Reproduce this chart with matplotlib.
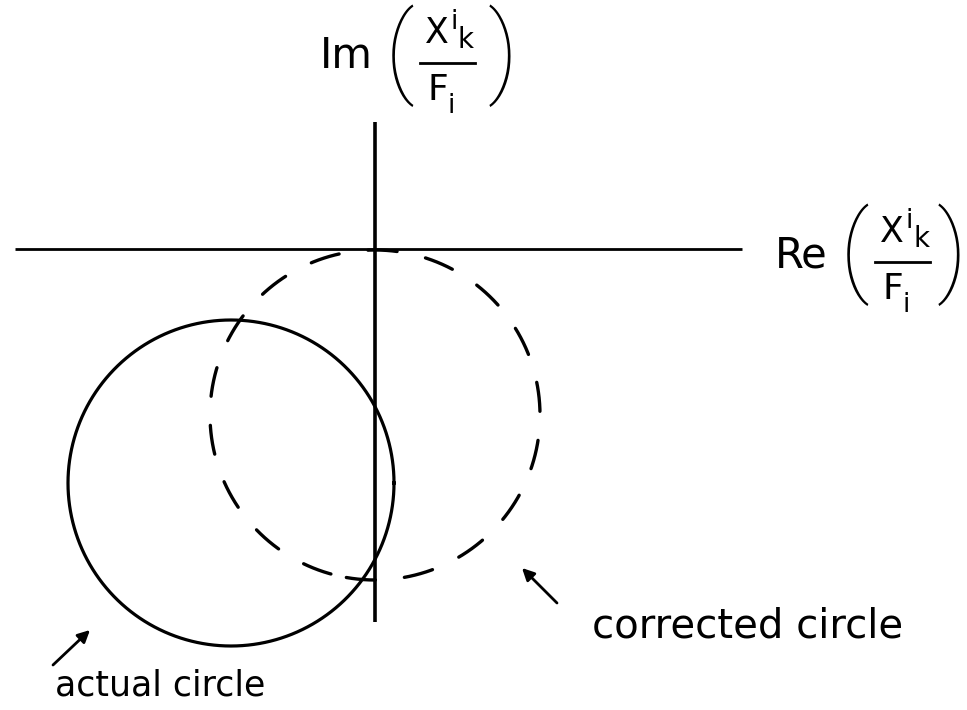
import numpy as np
import matplotlib
matplotlib.use("Agg")
import matplotlib.pyplot as plt

plt.rcParams["lines.scale_dashes"] = False
plt.rcParams["font.family"] = ["DejaVu Sans"]

# Complex-plane sketch: coordinates in plot units (origin at axis crossing)
re_axis_range = [-3.60, 3.67]        # extent of the real axis
im_axis_range = [1.27, -3.73]        # extent of the imaginary axis

actual_center = [-1.44, -2.34]
actual_radius = 1.63
corrected_center = [0.0, -1.66]
corrected_radius = 1.65
corrected_dash_start_deg = 260.0

label_actual = "actual circle"
label_corrected = "corrected circle"
prefix_im = "Im"
prefix_re = "Re"

fig = plt.figure(figsize=(9.67, 7.10), dpi=100)
ax = fig.add_axes([0, 0, 1, 1])
ax.set_xlim(-3.75, 5.92)
ax.set_ylim(-4.61, 2.49)
ax.set_axis_off()

# axes of the plane
ax.plot(re_axis_range, [0, 0], color="black", lw=2.0, solid_capstyle="butt")
ax.plot([0, 0], im_axis_range, color="black", lw=2.6, solid_capstyle="butt")

# actual (solid) circle
t = np.linspace(0, 2 * np.pi, 721)
ax.plot(actual_center[0] + actual_radius * np.cos(t),
        actual_center[1] + actual_radius * np.sin(t),
        color="black", lw=2.3)

# corrected (dashed) circle, tangent to the real axis at the origin
tc = np.deg2rad(corrected_dash_start_deg) + t
ax.plot(corrected_center[0] + corrected_radius * np.cos(tc),
        corrected_center[1] + corrected_radius * np.sin(tc),
        color="black", lw=2.4, linestyle=(0, (21, 21)), dash_capstyle="round")

paren_font = ["Roboto", "DejaVu Sans"]


def fraction_label(prefix, cx, cy, right_paren_dx):
    """Draw prefix( X^i_k / F_i ) with the fraction bar centred at (cx, cy)."""
    ax.text(cx - 0.74, cy + 0.07, prefix, fontsize=30, ha="right", va="center")
    ax.text(cx - 0.47, cy + 0.07, "(", fontsize=72, ha="center", va="center",
            family=paren_font, fontweight="light")
    ax.text(cx + right_paren_dx, cy + 0.07, ")", fontsize=72, ha="center",
            va="center", family=paren_font, fontweight="light")
    ax.plot([cx - 0.275, cx + 0.275], [cy, cy], color="black", lw=2.0)
    ax.text(cx - 0.10, cy + 0.30, "X", fontsize=25, ha="center", va="center")
    ax.text(cx + 0.075, cy + 0.41, "i", fontsize=19, ha="center", va="center")
    ax.text(cx + 0.19, cy + 0.23, "k", fontsize=20, ha="center", va="center")
    ax.text(cx - 0.09, cy - 0.27, "F", fontsize=26, ha="center", va="center")
    ax.text(cx + 0.045, cy - 0.43, "i", fontsize=19, ha="center", va="center")


fraction_label(prefix_im, 0.72, 1.86, 0.56)
fraction_label(prefix_re, 5.27, -0.13, 0.50)

# pointer labels
arrow = dict(arrowstyle="-|>", color="black", lw=2.0, mutation_scale=18,
             shrinkA=0, shrinkB=0)
ax.annotate("", xy=(-2.85, -3.81), xytext=(-3.22, -4.16), arrowprops=arrow)
ax.annotate("", xy=(1.47, -3.19), xytext=(1.82, -3.54), arrowprops=arrow)
ax.text(-3.20, -4.46, label_actual, fontsize=25, ha="left", va="baseline")
ax.text(2.17, -3.89, label_corrected, fontsize=29, ha="left", va="baseline")

fig.savefig("out.png", dpi=100, facecolor="white")
